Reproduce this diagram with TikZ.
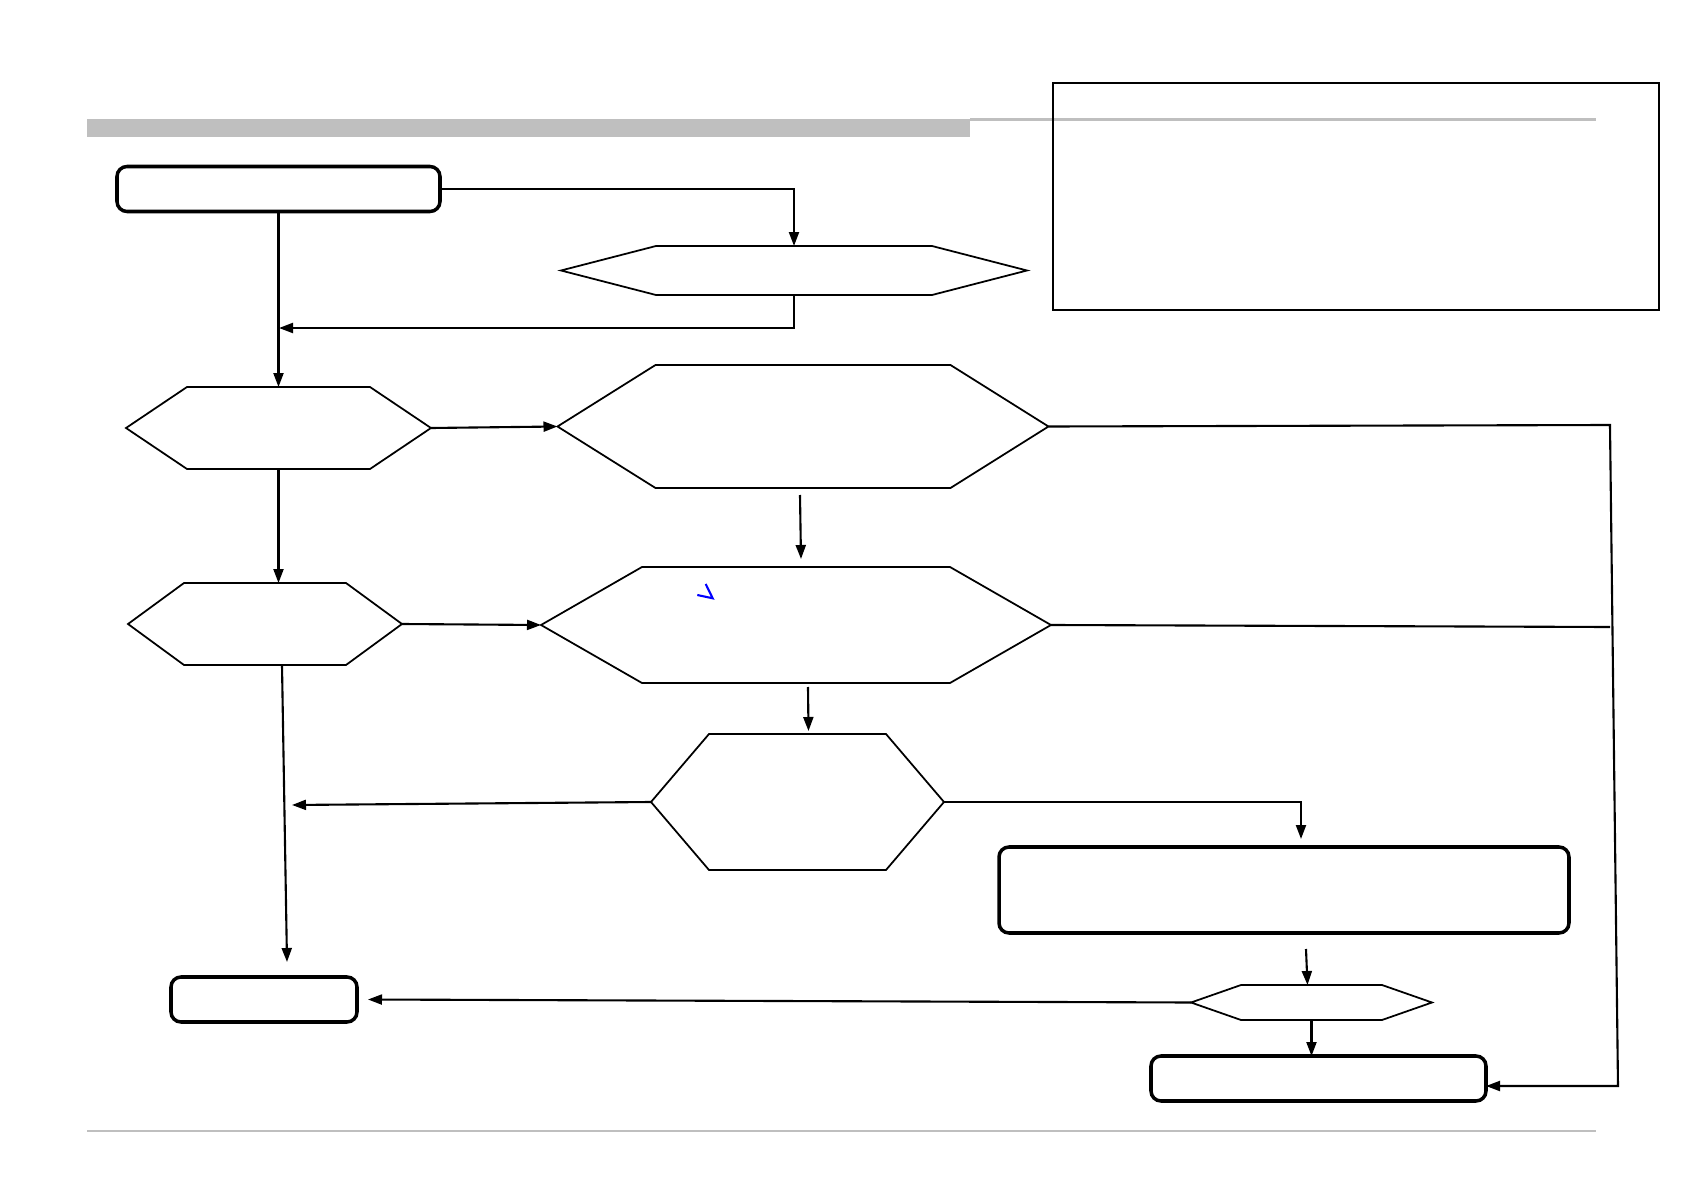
\documentclass[tikz,border=0pt]{standalone}
\usetikzlibrary{arrows.meta}
\begin{document}
\begin{tikzpicture}[x=0.1mm, y=-0.1mm,
  roundbox/.style={draw, line width=1pt, rounded corners=1mm, inner sep=0pt, outer sep=0pt},
  hexa/.style={inner sep=0pt, outer sep=0pt},
  hexline/.style={line width=0.5pt, line join=miter},
  conn/.style={line width=0.6pt, -{Triangle[length=1.4mm, width=1mm]}},
  plain/.style={line width=0.6pt},
  grayline/.style={draw=black!25, line width=0.6pt}]
  \useasboundingbox (0,0) rectangle (1683,1191);
  % page frame
  \fill[black!25] (87,119) rectangle (970,137);
  \draw[grayline] (970,119.5) -- (1596,119.5);
  \draw[grayline] (87,1131) -- (1596,1131);
  \node[draw, line width=0.5pt, inner sep=0pt, minimum width=60.6mm, minimum height=22.7mm] (nNote) at (1356,196.5) {};
  % boxes
  \node[roundbox, minimum width=32.3mm, minimum height=4.5mm] (nA) at (278.5,189) {};
  \node[roundbox, minimum width=18.6mm, minimum height=4.5mm] (nG) at (264,999.5) {};
  \node[roundbox, minimum width=57mm, minimum height=8.6mm] (nJ) at (1284,890) {};
  \node[roundbox, minimum width=33.5mm, minimum height=4.5mm] (nH) at (1318.5,1078.5) {};
  % hexagons
  \node[hexa, minimum width=46.6mm, minimum height=4.9mm] (nB) at (794,270.5) {};
  \node[hexa, minimum width=30.5mm, minimum height=8.2mm] (nC) at (278.5,428) {};
  \node[hexa, minimum width=49.1mm, minimum height=12.3mm] (nD) at (803,426.5) {};
  \node[hexa, minimum width=27.4mm, minimum height=8.2mm] (nF) at (265,624) {};
  \node[hexa, minimum width=51mm, minimum height=11.6mm] (nE) at (796,625) {};
  \node[hexa, minimum width=29.3mm, minimum height=13.6mm] (nI) at (797.5,802) {};
  \node[hexa, minimum width=24.1mm, minimum height=3.5mm] (nK) at (1311.5,1002.5) {};
  \foreach \n/\d in {nB/95, nC/61, nD/98, nE/101, nF/56, nI/58, nK/50}
    \draw[hexline] ([xshift=\d*0.1mm]\n.north west) -- ([xshift=-\d*0.1mm]\n.north east) -- (\n.east)
      -- ([xshift=-\d*0.1mm]\n.south east) -- ([xshift=\d*0.1mm]\n.south west) -- (\n.west) -- cycle;
  % stray blue mark
  \draw[blue, line width=0.6pt] (705.7,584) -- (712.7,598.3) -- (697.3,595);
  % junctions
  \coordinate (m1) at (279,328);
  \coordinate (r1) at (1610,425);
  \coordinate (r2) at (1618,1086);
  \coordinate (r3) at (1610,627);
  \coordinate (g1) at (287,962);
  \coordinate (g2) at (292,805);
  % connectors
  \draw[conn] (nA.east) -| (nB.north);
  \draw[conn] (nB.south) |- (m1);
  \draw[conn] (nA.south) -- (nA.south |- nC.north);
  \draw[conn] (nC.east) -- (nD.west);
  \draw[conn] (nC.south) -- (nC.south |- nF.north);
  \draw[conn] (nF.east) -- (nE.west);
  \draw[conn] ([xshift=-0.3mm, yshift=-0.7mm]nD.south) -- ([xshift=0.5mm, yshift=0.8mm]nE.north);
  \draw[conn] ([xshift=1.2mm, yshift=-0.4mm]nE.south) -- ([xshift=1.1mm, yshift=0.3mm]nI.north);
  \draw[conn] (nD.east) -- (r1) -- (r2) -- (r2 -| nH.east);
  \draw[plain] (nE.east) -- (r3);
  \draw[conn] ([xshift=1.7mm]nF.south) -- (g1);
  \draw[conn] (nI.west) -- (g2);
  \draw[conn] (nI.east) -| ([xshift=1.7mm, yshift=0.8mm]nJ.north);
  \draw[conn] ([xshift=2.2mm, yshift=-1.6mm]nJ.south) -- ([xshift=-0.4mm]nK.north);
  \draw[conn] (nK.south) -- (nK.south |- nH.north);
  \draw[conn] (nK.west) -- ([xshift=1.1mm]nG.east);
\end{tikzpicture}
\end{document}
